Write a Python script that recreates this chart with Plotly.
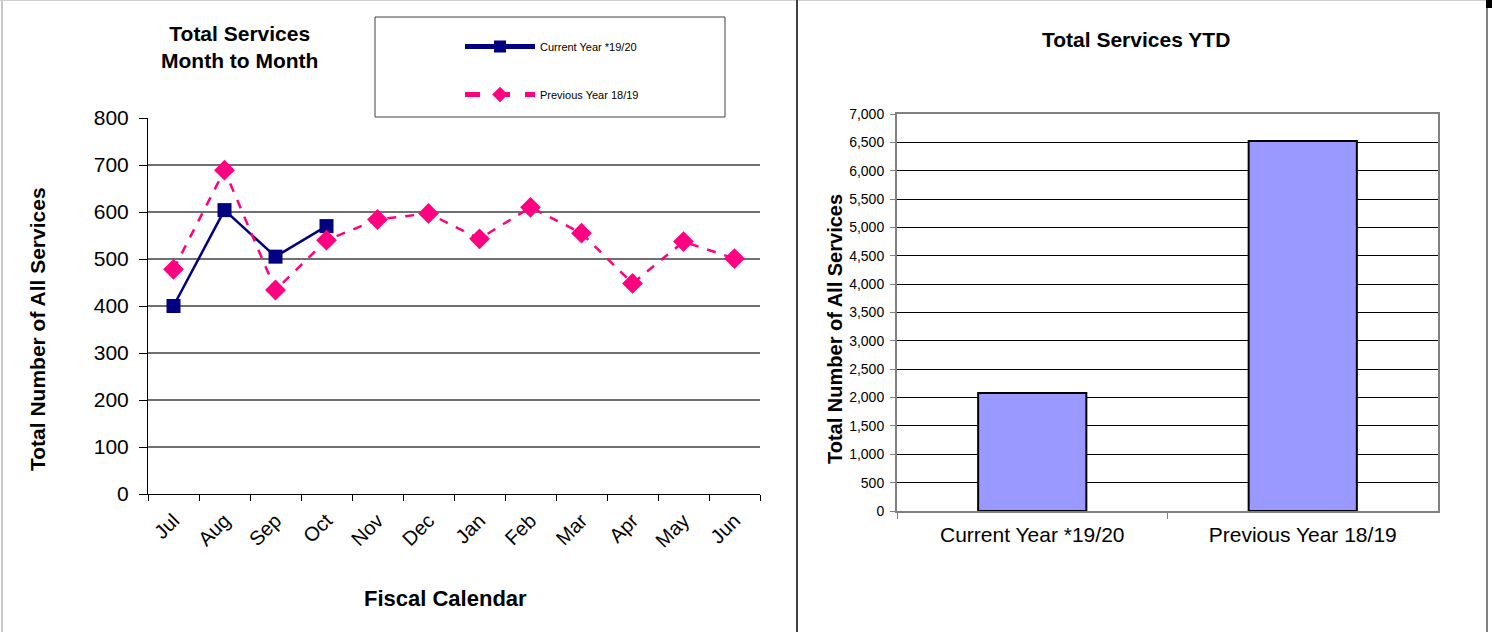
import plotly.graph_objects as go

W, H = 1494, 632

months = ["Jul", "Aug", "Sep", "Oct", "Nov", "Dec", "Jan", "Feb", "Mar", "Apr", "May", "Jun"]
current_year = [400, 604, 505, 570]
previous_year = [478, 689, 434, 540, 584, 597, 543, 610, 555, 448, 537, 501]
ytd_labels = ["Current Year *19/20", "Previous Year 18/19"]
ytd_values = [2079, 6525]

FONT = "Arial, Liberation Sans, sans-serif"


def px_x(x):
    return x / W


def px_y(y):
    return 1 - y / H


fig = go.Figure()

fig.add_trace(go.Scatter(
    x=months[:len(current_year)], y=current_year, name="Current Year *19/20",
    mode="lines+markers", legendgroup="a",
    line=dict(color="#000080", width=2.5),
    marker=dict(symbol="square", size=14, color="#000080"),
    xaxis="x", yaxis="y",
))
fig.add_trace(go.Scatter(
    x=months, y=previous_year, name="Previous Year 18/19",
    mode="lines+markers", legendgroup="b",
    line=dict(color="#FF0080", width=2.5, dash="dash"),
    marker=dict(symbol="diamond", size=16, color="#FF0080"),
    xaxis="x", yaxis="y",
))
fig.add_trace(go.Bar(
    x=ytd_labels, y=ytd_values, width=0.4, showlegend=False,
    marker=dict(color="#9999FF", line=dict(color="black", width=2)),
    xaxis="x2", yaxis="y2",
))

fig.update_layout(
    width=W, height=H,
    margin=dict(l=0, r=0, t=0, b=0, pad=0, autoexpand=False),
    paper_bgcolor="white", plot_bgcolor="white",
    font=dict(family=FONT, color="black"),
    showlegend=True,
    legend=dict(
        x=px_x(460), y=px_y(32), xanchor="left", yanchor="top",
        font=dict(size=11, family=FONT), bgcolor="rgba(0,0,0,0)",
        tracegroupgap=29, traceorder="grouped", itemwidth=70, itemsizing="constant",
    ),
    xaxis=dict(
        domain=[px_x(148), px_x(760)], anchor="y", automargin=False,
        type="category", categoryorder="array", categoryarray=months,
        range=[-0.5, 11.5], tickson="boundaries", ticks="outside", ticklen=6,
        tickcolor="black", showline=True, linecolor="black", linewidth=1,
        showgrid=False, tickangle=-45, tickfont=dict(size=20), ticklabelstandoff=6,
    ),
    yaxis=dict(
        domain=[px_y(494), px_y(118)], anchor="x", automargin=False,
        range=[0, 800], dtick=100, ticks="outside", ticklen=8, tickcolor="black",
        showline=True, linecolor="black", linewidth=1,
        showgrid=True, gridcolor="#707070", gridwidth=1.5, zeroline=False,
        tickfont=dict(size=21), ticklabelstandoff=6,
    ),
    xaxis2=dict(
        domain=[px_x(897), px_x(1438)], anchor="y2", automargin=False,
        type="category", range=[-0.5, 1.5], tickson="boundaries",
        ticks="outside", ticklen=6, tickcolor="#808080",
        showline=True, linecolor="#808080", linewidth=2, mirror=True,
        showgrid=False, tickfont=dict(size=21), ticklabelstandoff=4,
    ),
    yaxis2=dict(
        domain=[px_y(511), px_y(114)], anchor="x2", automargin=False,
        range=[0, 7000], dtick=500, tickformat=",d", ticks="outside", ticklen=5,
        tickcolor="#808080", showline=True, linecolor="#808080", linewidth=2,
        mirror=True, showgrid=True, gridcolor="black", gridwidth=1, zeroline=False,
        tickfont=dict(size=14), ticklabelstandoff=3,
    ),
)

annotations = [
    dict(text="<b>Total Services<br>Month to Month</b>", x=px_x(239), y=px_y(47),
         font=dict(size=21)),
    dict(text="<b>Total Number of All Services</b>", x=px_x(37), y=px_y(329),
         textangle=-90, font=dict(size=21)),
    dict(text="<b>Fiscal Calendar</b>", x=px_x(445), y=px_y(598), font=dict(size=22)),
    dict(text="<b>Total Services YTD</b>", x=px_x(1136), y=px_y(39), font=dict(size=21)),
    dict(text="<b>Total Number of All Services</b>", x=px_x(835), y=px_y(329),
         textangle=-90, font=dict(size=20)),
]
for a in annotations:
    a.update(xref="paper", yref="paper", showarrow=False, xanchor="center", yanchor="middle")
fig.update_layout(annotations=annotations)

shapes = [
    # legend box
    dict(type="rect", x0=px_x(375), x1=px_x(725), y0=px_y(117), y1=px_y(17),
         line=dict(color="#404040", width=1)),
    # page frames
    dict(type="line", x0=px_x(2), x1=px_x(2), y0=0, y1=1, line=dict(color="#909090", width=1)),
    dict(type="line", x0=0, x1=px_x(1487), y0=px_y(0.5), y1=px_y(0.5), line=dict(color="#d0d0d0", width=1)),
    dict(type="line", x0=px_x(797), x1=px_x(797), y0=0, y1=1, line=dict(color="#404040", width=2)),
    dict(type="line", x0=px_x(1487), x1=px_x(1487), y0=0, y1=1, line=dict(color="#808080", width=2)),
    dict(type="rect", x0=px_x(1486), x1=px_x(1492), y0=px_y(8), y1=1,
         line=dict(width=0), fillcolor="black"),
]
for s in shapes:
    s.update(xref="paper", yref="paper")
fig.update_layout(shapes=shapes)

fig.write_html("out.html")
